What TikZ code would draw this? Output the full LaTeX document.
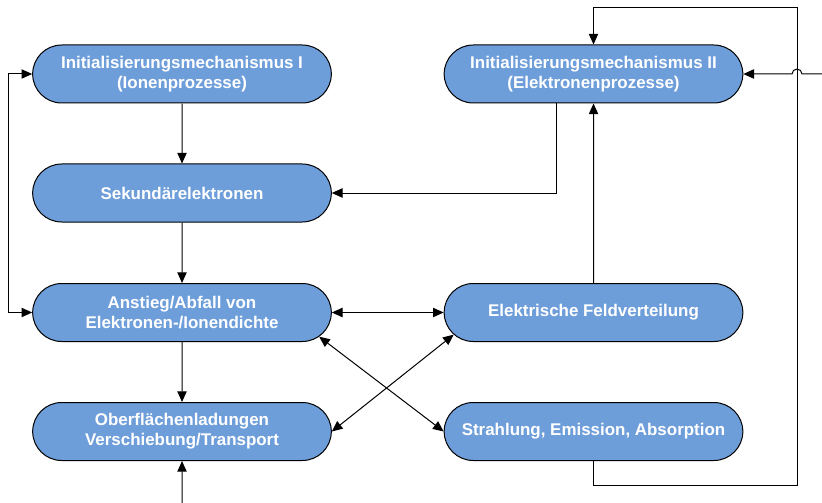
\documentclass[tikz,border=0pt]{standalone}
\usepackage{fontspec}
\setmainfont{Liberation Sans}
\usetikzlibrary{arrows.meta,calc,shapes.misc}

\definecolor{boxfill}{RGB}{110,158,218}

\begin{document}
\begin{tikzpicture}[
    x=0.75pt, y=-0.75pt, % one unit = one pixel of the layout
    >={Triangle[length=8pt,width=7pt]},
    flowbox/.style={
        rounded rectangle,
        draw=black,
        line width=0.75pt,
        fill=boxfill,
        text=white,
        font=\fontsize{12.7}{15}\selectfont\bfseries,
        align=center,
        minimum width=228pt,
        minimum height=43.5pt,
        inner sep=2pt
    },
    arrow/.style={->, line width=0.75pt},
    twoway/.style={<->, line width=0.75pt}
]
\useasboundingbox (0,0) rectangle (822,503);

% --- NODES ---
\node[flowbox] (initA) at (182,74)
{Initialisierungsmechanismus I\\(Ionenprozesse)};

\node[flowbox] (initB) at (593.5,74)
{Initialisierungsmechanismus II\\(Elektronenprozesse)};

\node[flowbox] (second) at (182,193)
{Sekundärelektronen};

\node[flowbox] (density) at (182,312.5)
{Anstieg/Abfall von\\Elektronen-/Ionendichte};

\node[flowbox] (field) at (593.5,312.5)
{Elektrische Feldverteilung};

\node[flowbox] (surface) at (182,431.5)
{Oberflächenladungen\\Verschiebung/Transport};

\node[flowbox] (radiation) at (593.5,431.5)
{Strahlung, Emission, Absorption};

% free ends and loop corners
\coordinate (inRight) at (822,74);
\coordinate (inBottom) at (182,503);
\coordinate (loopL) at (8,74);
\coordinate (loopTR) at (797,8);
\coordinate (loopBR) at (797,485);

% --- CONNECTIONS ---
\draw[arrow] (initA) -- (second);
\draw[arrow] (second) -- (density);
\draw[arrow] (density) -- (surface);
\draw[arrow] ([xshift=-27.75pt]initB.south) |- (second.east);
\draw[arrow] (field) -- (initB);

% left loop
\draw[twoway] (initA.west) -- (loopL) |- (density.west);

% cross connections
\draw[twoway] (density.east) -- (field.west);
\draw[twoway] (density.-10) -- (radiation.west);
\draw[twoway] (surface.east) -- (field.189);

% right loop and incoming lines
\draw[arrow] (radiation.south) |- (loopBR) -- (loopTR) -| (initB.north);
\draw[arrow] (inRight) -- ([xshift=3.75pt]loopTR |- inRight)
    arc[start angle=0, end angle=180, radius=3.75pt] -- (initB.east);
\draw[arrow] (inBottom) -- (surface);

\end{tikzpicture}
\end{document}
